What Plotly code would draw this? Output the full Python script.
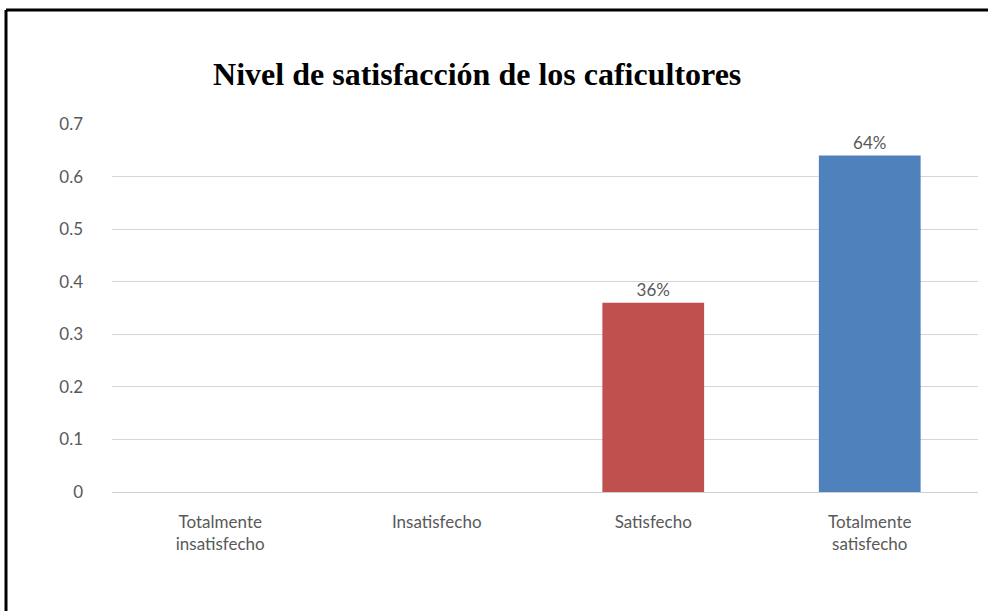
import plotly.graph_objects as go

categories = ["Totalmente<br>insatisfecho", "Insatisfecho", "Satisfecho", "Totalmente<br>satisfecho"]
values = [0, 0, 0.36, 0.64]
labels = ["", "", "36%", "64%"]
colors = ["#4f81bd", "#4f81bd", "#c0504d", "#4f81bd"]
y_ticks = [0, 0.1, 0.2, 0.3, 0.4, 0.5, 0.6, 0.7]

label_font = dict(family="Lato, Open Sans, sans-serif", size=17, color="#595959")

fig = go.Figure()
fig.add_trace(
    go.Bar(
        x=categories,
        y=values,
        text=labels,
        textposition="outside",
        cliponaxis=False,
        marker=dict(color=colors, line=dict(width=0)),
        textfont=label_font,
        hoverinfo="skip",
    )
)

# margins chosen so the plot area sits where the reference draws it
fig.update_layout(
    width=988,
    height=611,
    margin=dict(l=112, r=10, t=124, b=119),
    plot_bgcolor="white",
    paper_bgcolor="white",
    showlegend=False,
    bargap=0.53,
    title=dict(
        text="<b>Nivel de satisfacción de los caficultores</b>",
        font=dict(family="Liberation Serif, Times New Roman, serif", size=32, color="black"),
        xref="container",
        x=0.483,
        xanchor="center",
        y=0.879,
        yanchor="middle",
    ),
)

fig.update_xaxes(
    showgrid=False,
    showline=False,
    ticks="",
    ticklabelstandoff=18,
    tickfont=label_font,
)
fig.update_yaxes(
    range=[0, 0.7],
    tickvals=y_ticks,
    ticktext=[f"{v:g}" for v in y_ticks],
    showgrid=True,
    gridcolor="#d6d6d6",
    gridwidth=1,
    zeroline=True,
    zerolinecolor="#d0d0d0",
    zerolinewidth=1,
    showline=False,
    ticks="",
    ticklabelstandoff=28,
    tickfont=label_font,
)

# black frame: only the left and top edges are inside the picture
frame = dict(color="black", width=3)
fig.add_shape(type="line", xref="paper", yref="paper",
              x0=-0.1224, x1=-0.1224, y0=-0.36, y1=1.3098, line=frame, layer="above")
fig.add_shape(type="line", xref="paper", yref="paper",
              x0=-0.1224, x1=1.12, y0=1.3098, y1=1.3098, line=frame, layer="above")

fig.write_html(
    "out.html",
    config={"displayModeBar": False},
    post_script="document.body.style.margin='0';",
)
